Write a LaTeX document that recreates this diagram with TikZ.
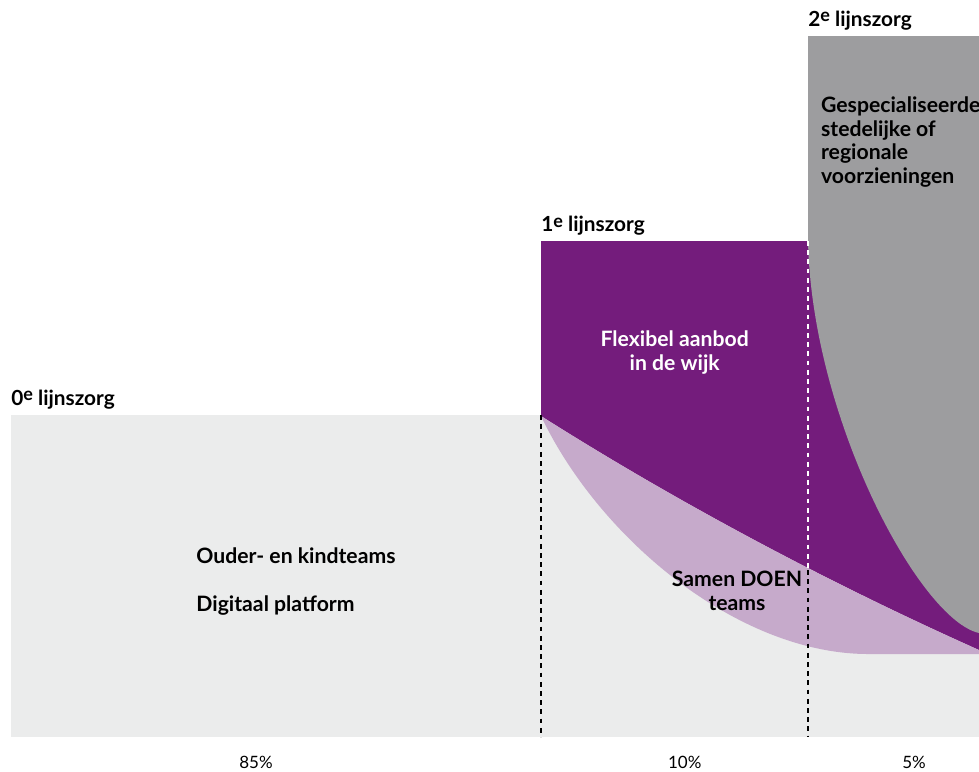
\documentclass[tikz,border=0pt]{standalone}
\usepackage{fontspec}
\setmainfont{Lato}
\definecolor{zeroline}{HTML}{EBECEC}
\definecolor{firstline}{HTML}{741C7C}
\definecolor{samenline}{HTML}{C6AACB}
\definecolor{secondline}{HTML}{9D9D9F}
\newcommand\ordn[1]{#1\raisebox{2.3pt}{\fontsize{9}{9}\selectfont e}}
\begin{document}
\begin{tikzpicture}[x=0.5pt, y=-0.5pt,
  lbl/.style={anchor=base west, inner sep=0pt, font=\bfseries\fontsize{10.4}{12}\selectfont},
  body/.style={anchor=base west, inner sep=0pt, align=left, font=\bfseries\fontsize{10.6}{11.75}\selectfont},
  pct/.style={anchor=base, inner sep=0pt, font=\fontsize{8.5}{10}\selectfont},
  dots/.style={line width=1.1pt, dash pattern=on 2.4pt off 2.2pt}]
  \useasboundingbox (0, 0) rectangle (979, 771);

  \fill[zeroline] (11, 415) rectangle (979, 737);

  \fill[firstline] (541, 241) -- (979, 241) -- (979, 650)
    .. controls (800, 570) and (650, 485) .. (541, 416) -- cycle;
  \fill[samenline] (541, 416) .. controls (650, 485) and (800, 570) .. (979, 650)
    -- (979, 654) -- (870, 654) .. controls (740, 655) and (600, 540) .. (541, 416) -- cycle;
  \fill[secondline] (808, 36) -- (979, 36) -- (979, 633)
    .. controls (920, 620) and (812, 420) .. (808, 241) -- cycle;

  \coordinate (a top) at (541, 415);
  \coordinate (a bottom) at (541, 737);
  \coordinate (b top) at (808, 241);
  \coordinate (b cross) at (808, 570);
  \coordinate (b bottom) at (808, 737);
  \draw[dots] (a top) -- (a bottom);
  \draw[dots, white] (b top) -- (b cross);
  \draw[dots] (b cross) -- (b bottom);

  \node[lbl] (zero) at (11, 405) {\ordn{0} lijnszorg};
  \node[lbl] (first) at (541, 231.7) {\ordn{1} lijnszorg};
  \node[lbl] (second) at (808, 26) {\ordn{2} lijnszorg};

  \node[body] (ouder) at (196, 563.7) {Ouder- en kindteams};
  \node[body] (digitaal) at (196, 611.7) {Digitaal platform};
  \node[body, anchor=base, align=center, text=white] (flex) at (674.7, 370) {Flexibel aanbod\\in de wijk};
  \node[body, anchor=base, align=center] (samen) at (737, 610) {Samen DOEN\\teams};
  \node[body] (special) at (820.7, 183.2) {Gespecialiseerde\\stedelijke of\\regionale\\voorzieningen};

  \node[pct] (p85) at (256, 768) {85\%};
  \node[pct] (p10) at (684.7, 768) {10\%};
  \node[pct] (p5) at (914, 768) {5\%};
\end{tikzpicture}
\end{document}
